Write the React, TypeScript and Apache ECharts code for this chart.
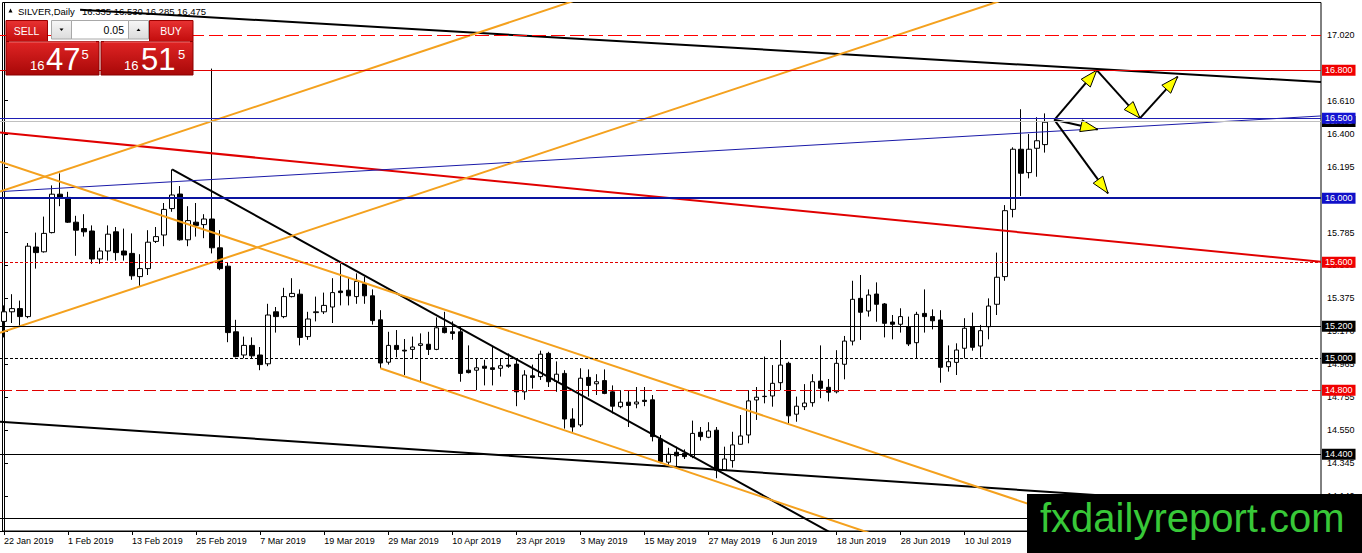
import React, { useEffect, useRef } from 'react';
import * as echarts from 'echarts';

// ---------- DATA ----------
const opens = [
  15.23, 15.29, 15.31, 15.26, 15.695, 15.665, 15.785, 16.025, 16.005, 15.85,
  15.81, 15.795, 15.62, 15.67, 15.79, 15.67, 15.655, 15.51, 15.56, 15.73,
  15.77, 15.935, 16.026, 15.74, 15.85, 15.835, 15.87, 15.69, 15.575, 15.165,
  15.02, 15.08, 15.02, 14.965, 15.29, 15.26, 15.385, 15.40, 15.135, 15.285,
  15.29, 15.32, 15.42, 15.425, 15.385, 15.465, 15.39, 15.24, 14.975, 15.08,
  15.05, 15.055, 15.08, 15.087, 15.055, 15.19, 15.165, 15.165, 14.925, 14.925,
  14.95, 14.94, 14.937, 14.957, 14.963, 14.79, 14.89, 14.885, 15.03, 14.855,
  14.905, 14.62, 14.583, 14.88, 14.84, 14.86, 14.79, 14.697, 14.725, 14.714,
  14.737, 14.74, 14.495, 14.35, 14.412, 14.405, 14.385, 14.537, 14.506, 14.55,
  14.30, 14.36, 14.462, 14.52, 14.739, 14.76, 14.764, 14.847, 14.968, 14.65,
  14.697, 14.722, 14.857, 14.818, 14.79, 14.962, 15.107, 15.374, 15.295, 15.401,
  15.339, 15.226, 15.212, 15.197, 15.097, 15.28, 15.26, 15.239, 14.947, 14.974,
  15.062, 15.197, 15.076, 15.197, 15.337, 15.51, 15.93, 16.306, 16.16, 16.312,
  16.335,
];
const highs = [
  15.33, 15.40, 15.36, 15.72, 15.785, 15.885, 16.08, 16.155, 16.04, 15.89,
  15.90, 15.83, 15.69, 15.83, 15.82, 15.81, 15.78, 15.65, 15.80, 15.82,
  15.97, 16.18, 16.076, 15.95, 15.97, 15.90, 16.81, 15.80, 15.60, 15.24,
  15.135, 15.13, 15.07, 15.34, 15.32, 15.44, 15.50, 15.43, 15.29, 15.385,
  15.41, 15.50, 15.59, 15.50, 15.53, 15.51, 15.43, 15.30, 15.165, 15.176,
  15.12, 15.135, 15.155, 15.165, 15.255, 15.29, 15.23, 15.20, 15.08, 15.00,
  14.99, 15.07, 15.00, 15.03, 15.00, 14.925, 14.96, 15.047, 15.04, 14.98,
  14.925, 14.687, 14.937, 14.93, 14.90, 14.93, 14.83, 14.80, 14.80, 14.82,
  14.82, 14.77, 14.52, 14.44, 14.447, 14.43, 14.61, 14.57, 14.60, 14.57,
  14.447, 14.54, 14.645, 14.80, 14.82, 15.01, 14.957, 15.113, 14.978, 14.76,
  14.838, 14.90, 15.08, 14.87, 15.05, 15.139, 15.484, 15.52, 15.43, 15.474,
  15.345, 15.27, 15.312, 15.26, 15.29, 15.43, 15.305, 15.30, 15.08, 15.093,
  15.25, 15.285, 15.208, 15.374, 15.66, 15.957, 16.318, 16.556, 16.401, 16.506,
  16.53,
];
const lows = [
  15.13, 15.22, 15.20, 15.25, 15.56, 15.66, 15.78, 15.95, 15.845, 15.64,
  15.76, 15.59, 15.59, 15.61, 15.61, 15.61, 15.49, 15.45, 15.52, 15.72,
  15.70, 15.915, 15.735, 15.70, 15.76, 15.75, 15.655, 15.55, 15.10, 15.005,
  15.00, 15.00, 14.925, 14.95, 15.16, 15.25, 15.38, 15.08, 15.115, 15.23,
  15.276, 15.22, 15.33, 15.33, 15.34, 15.34, 15.21, 14.937, 14.96, 15.005,
  14.895, 15.00, 14.85, 15.02, 15.05, 15.155, 15.115, 14.853, 14.905, 14.80,
  14.83, 14.83, 14.885, 14.94, 14.70, 14.74, 14.81, 14.864, 14.82, 14.79,
  14.56, 14.54, 14.57, 14.76, 14.77, 14.775, 14.655, 14.687, 14.57, 14.687,
  14.70, 14.48, 14.343, 14.33, 14.32, 14.37, 14.375, 14.485, 14.50, 14.25,
  14.297, 14.316, 14.46, 14.468, 14.614, 14.718, 14.697, 14.80, 14.593, 14.603,
  14.676, 14.697, 14.75, 14.73, 14.78, 14.868, 15.08, 15.114, 15.26, 15.228,
  15.13, 15.118, 15.16, 15.076, 14.999, 15.16, 15.18, 14.847, 14.916, 14.895,
  14.999, 15.047, 15.003, 15.118, 15.27, 15.484, 15.88, 16.014, 16.124, 16.134,
  16.285,
];
const closes = [
  15.29, 15.31, 15.26, 15.70, 15.66, 15.78, 16.025, 16.005, 15.85, 15.80,
  15.79, 15.62, 15.67, 15.775, 15.66, 15.645, 15.515, 15.56, 15.725, 15.76,
  15.93, 16.02, 15.74, 15.86, 15.83, 15.87, 15.69, 15.56, 15.16, 15.01,
  15.08, 15.015, 14.96, 15.27, 15.26, 15.385, 15.405, 15.13, 15.245, 15.29,
  15.33, 15.41, 15.41, 15.39, 15.48, 15.39, 15.235, 14.97, 15.08, 15.055,
  15.045, 15.07, 15.09, 15.055, 15.19, 15.16, 15.155, 14.905, 14.91, 14.94,
  14.937, 14.93, 14.953, 14.95, 14.79, 14.895, 14.88, 15.025, 14.853, 14.90,
  14.62, 14.57, 14.875, 14.83, 14.853, 14.78, 14.70, 14.725, 14.705, 14.726,
  14.73, 14.51, 14.353, 14.40, 14.39, 14.385, 14.53, 14.51, 14.545, 14.30,
  14.37, 14.458, 14.514, 14.733, 14.756, 14.762, 14.843, 14.957, 14.64, 14.70,
  14.72, 14.853, 14.812, 14.787, 14.968, 15.107, 15.368, 15.287, 15.395, 15.337,
  15.218, 15.212, 15.26, 15.089, 15.274, 15.26, 15.234, 14.943, 14.978, 15.051,
  15.187, 15.068, 15.172, 15.326, 15.506, 15.922, 16.306, 16.156, 16.306, 16.359,
  16.475,
];

const symbolName = 'SILVER,Daily';
const askPrice = 16.515;
const lotSize = '0.05';

// trading calendar (weekdays, minus listed holidays), then empty future slots
const firstDayUTC = [2019, 0, 22];
const holidays = ['2019-04-19'];
const futureSlots = 34;
const monthNames = ['Jan', 'Feb', 'Mar', 'Apr', 'May', 'Jun', 'Jul', 'Aug', 'Sep', 'Oct', 'Nov', 'Dec'];

// price-scale labels
const yTicks = [14.14, 14.345, 14.55, 14.755, 14.965, 15.17, 15.375, 15.58, 15.785, 16.195, 16.4, 16.61, 17.02];
const yMin = 13.92;
const yMax = 17.22;

// horizontal levels (first one is the bid line)
const levelPrices = [16.475, 17.02, 16.8, 16.5, 16.0, 15.6, 15.2, 15.0, 14.8, 14.4, 14.0];

// trend lines: [barIndex, price] endpoints
const blackTopLine = [[9.5, 17.178], [164.5, 16.726]];
const blackBottomLine = [[-0.5, 14.603], [164.5, 14.051]];
const blackDownLine = [[21, 16.18], [104, 13.889]];
const redLine = [[-0.5, 16.41], [164.5, 15.603]];
const blueLine = [[-0.5, 16.041], [164.5, 16.514]];
const orangeUpA = [[-0.5, 16.041], [75, 17.297]];
const orangeUpB = [[-0.5, 15.159], [126, 17.259]];
const orangeDownA = [[-0.5, 16.228], [164.5, 13.481]];
const orangeDownB = [[47, 14.937], [112, 13.842]];

// arrows: [fromIndex, fromPrice, toIndex, toPrice]
const arrowSegments = [
  [131.2, 16.49, 136.5, 16.80],
  [136.5, 16.80, 141.9, 16.50],
  [141.9, 16.50, 146.6, 16.76],
  [131.2, 16.49, 136.6, 16.43],
  [131.2, 16.49, 137.9, 16.03],
];

// ---------- STYLES ----------
const FONT = '"Liberation Sans", Arial, sans-serif';
const levelStyles = [
  { color: '#c0c0c0', width: 1, dash: 'solid', box: '#000000' },
  { color: '#ff0000', width: 1, dash: [14, 5], box: null },
  { color: '#e00000', width: 1, dash: 'solid', box: '#f00000' },
  { color: '#1e1eb4', width: 1, dash: 'solid', box: '#1414d2' },
  { color: '#0a14a0', width: 2, dash: 'solid', box: '#1010c8' },
  { color: '#e00000', width: 1, dash: [3, 2], box: '#f00000' },
  { color: '#000000', width: 1, dash: 'solid', box: '#000000' },
  { color: '#000000', width: 1, dash: [3, 2], box: '#000000' },
  { color: '#e00000', width: 1, dash: [12, 4], box: '#f00000' },
  { color: '#000000', width: 1, dash: 'solid', box: '#000000' },
  { color: '#000000', width: 1, dash: 'solid', box: '#000000' },
];
const ORANGE = '#f4a11e';

function buildCategories(count: number): string[] {
  const out: string[] = [];
  const d = new Date(Date.UTC(firstDayUTC[0], firstDayUTC[1], firstDayUTC[2]));
  while (out.length < count) {
    const dow = d.getUTCDay();
    const iso = d.toISOString().slice(0, 10);
    if (dow !== 0 && dow !== 6 && holidays.indexOf(iso) < 0) {
      out.push(`${d.getUTCDate()} ${monthNames[d.getUTCMonth()]} ${d.getUTCFullYear()}`);
    }
    d.setUTCDate(d.getUTCDate() + 1);
  }
  return out;
}

function buildOption() {
  const n = Math.min(opens.length, highs.length, lows.length, closes.length);
  const candles: number[][] = [];
  for (let i = 0; i < n; i++) candles.push([opens[i], closes[i], lows[i], highs[i]]);
  const categories = buildCategories(n).concat(new Array(futureSlots).fill(''));
  const last = n - 1;
  const header = [opens[last], highs[last], lows[last], closes[last]].map((v) => v.toFixed(3)).join(' ');
  const split = (p: number) => {
    const s = p.toFixed(3);
    return [s.slice(0, 2), s.slice(3, 5), s.slice(5)];
  };
  const bidParts = split(closes[last]);
  const askParts = split(askPrice);

  const trend = (data: number[][], color: string, width: number) => ({
    type: 'line',
    xAxisIndex: 1,
    yAxisIndex: 0,
    data,
    symbol: 'none',
    showSymbol: false,
    silent: true,
    clip: true,
    z: 3,
    lineStyle: { color, width },
    emphasis: { disabled: true },
  });

  const redGrad = () =>
    new echarts.graphic.LinearGradient(0, 0, 0, 1, [
      { offset: 0, color: '#e83232' },
      { offset: 1, color: '#c20c0c' },
    ]);
  const priceGrad = () =>
    new echarts.graphic.LinearGradient(0, 0, 0, 1, [
      { offset: 0, color: '#e02424' },
      { offset: 1, color: '#a80808' },
    ]);
  const grayGrad = () =>
    new echarts.graphic.LinearGradient(0, 0, 0, 1, [
      { offset: 0, color: '#f6f6f6' },
      { offset: 1, color: '#dcdcdc' },
    ]);
  const txt = (text: string, x: number, y: number, size: number, fill: string, align = 'left', z = 11) => ({
    type: 'text',
    x,
    y,
    z,
    silent: true,
    style: {
      text,
      fill,
      fontSize: size,
      fontFamily: FONT,
      align,
      textAlign: align,
      verticalAlign: 'middle',
      textVerticalAlign: 'middle',
    },
  });

  const graphic: any[] = [
    // chart frame (left/top)
    {
      type: 'rect',
      z: 1,
      silent: true,
      shape: { x: 2.5, y: 2.5, width: 1318.5, height: 528.5 },
      style: { fill: 'none', stroke: '#000', lineWidth: 1 },
    },
    // header
    {
      type: 'polygon',
      z: 1,
      silent: true,
      shape: { points: [[8.5, 12.5], [12.5, 12.5], [10.5, 8.5]] },
      style: { fill: '#000' },
    },
    txt(symbolName, 18, 11, 9.5, '#000', 'left', 1),
    txt(header, 82, 11, 9.5, '#000', 'left', 1),
    // one-click panel
    { type: 'rect', z: 10, silent: true, shape: { x: 6, y: 20.5, width: 41.5, height: 21 }, style: { fill: redGrad(), stroke: '#9a0000', lineWidth: 1 } },
    { type: 'rect', z: 10, silent: true, shape: { x: 149.5, y: 20.5, width: 43.5, height: 21 }, style: { fill: redGrad(), stroke: '#9a0000', lineWidth: 1 } },
    { type: 'rect', z: 10, silent: true, shape: { x: 51.5, y: 20.5, width: 20, height: 18.5 }, style: { fill: grayGrad(), stroke: '#a8a8a8', lineWidth: 1 } },
    { type: 'rect', z: 10, silent: true, shape: { x: 71.5, y: 20.5, width: 57, height: 18.5 }, style: { fill: '#ffffff', stroke: '#a8a8a8', lineWidth: 1 } },
    { type: 'rect', z: 10, silent: true, shape: { x: 128.5, y: 20.5, width: 20, height: 18.5 }, style: { fill: grayGrad(), stroke: '#a8a8a8', lineWidth: 1 } },
    { type: 'polygon', z: 11, silent: true, shape: { points: [[59.5, 28.5], [63.5, 28.5], [61.5, 31]] }, style: { fill: '#000' } },
    { type: 'polygon', z: 11, silent: true, shape: { points: [[136.5, 31], [140.5, 31], [138.5, 28.5]] }, style: { fill: '#000' } },
    { type: 'rect', z: 10, silent: true, shape: { x: 6, y: 41.5, width: 93, height: 33.5 }, style: { fill: priceGrad(), stroke: '#8a0000', lineWidth: 1 } },
    { type: 'rect', z: 10, silent: true, shape: { x: 101, y: 41.5, width: 92, height: 33.5 }, style: { fill: priceGrad(), stroke: '#8a0000', lineWidth: 1 } },
    { type: 'line', z: 11, silent: true, shape: { x1: 9, y1: 42, x2: 96, y2: 42 }, style: { stroke: '#f07070', lineWidth: 1 } },
    { type: 'line', z: 11, silent: true, shape: { x1: 104, y1: 42, x2: 190, y2: 42 }, style: { stroke: '#f07070', lineWidth: 1 } },
    txt('SELL', 26.5, 31, 10.5, '#ffffff', 'center'),
    txt('BUY', 171, 31, 10.5, '#ffffff', 'center'),
    txt(lotSize, 124, 30, 10.5, '#000000', 'right'),
    txt(bidParts[0], 30, 65.5, 13, '#ffffff'),
    txt(bidParts[1], 46, 59.5, 31, '#ffffff'),
    txt(bidParts[2], 81.5, 54, 13, '#ffffff'),
    txt(askParts[0], 124, 65.5, 13, '#ffffff'),
    txt(askParts[1], 141, 59.5, 31, '#ffffff'),
    txt(askParts[2], 178, 54, 13, '#ffffff'),
    // watermark
    { type: 'rect', z: 20, silent: true, shape: { x: 1027, y: 494, width: 335, height: 59 }, style: { fill: '#000000' } },
    txt('fxdailyreport.com', 1040, 518, 40, '#38c838', 'left', 21),
  ];

  const markData = levelPrices.map((p, i) => {
    const st = levelStyles[i];
    return {
      yAxis: p,
      lineStyle: { color: st.color, width: st.width, type: st.dash },
      label: st.box
        ? {
            show: true,
            position: 'end',
            distance: 1,
            formatter: p.toFixed(3),
            color: '#ffffff',
            backgroundColor: st.box,
            padding: [1, 3, 1, 3],
            fontSize: 9,
            fontFamily: FONT,
          }
        : { show: false },
    };
  });

  return {
    animation: false,
    backgroundColor: '#ffffff',
    textStyle: { fontFamily: FONT },
    grid: { left: 0, right: 41, top: 3, bottom: 22, outerBoundsMode: 'none', containLabel: false },
    xAxis: [
      {
        type: 'category',
        gridIndex: 0,
        data: categories,
        boundaryGap: true,
        axisLine: { show: true, lineStyle: { color: '#000', width: 1 } },
        axisTick: { show: true, interval: 7, alignWithLabel: true, length: 4, lineStyle: { color: '#000' } },
        axisLabel: { interval: 7, align: 'left', fontSize: 9, color: '#000', margin: 5, fontFamily: FONT },
        splitLine: { show: false },
      },
      { type: 'value', gridIndex: 0, min: -0.5, max: categories.length - 0.5, show: false },
    ],
    yAxis: [
      {
        type: 'value',
        position: 'right',
        min: yMin,
        max: yMax,
        scale: true,
        axisLine: { show: true, lineStyle: { color: '#000', width: 1 } },
        axisTick: { show: true, length: 4, customValues: yTicks, lineStyle: { color: '#000' } },
        axisLabel: {
          customValues: yTicks,
          formatter: (v: number) => v.toFixed(3),
          fontSize: 9,
          color: '#000',
          margin: 6,
          fontFamily: FONT,
        },
        splitLine: { show: false },
      },
    ],
    series: [
      {
        type: 'candlestick',
        xAxisIndex: 0,
        yAxisIndex: 0,
        data: candles,
        barWidth: 5,
        z: 2,
        silent: true,
        itemStyle: {
          color: '#ffffff',
          color0: '#000000',
          borderColor: '#000000',
          borderColor0: '#000000',
          borderColorDoji: '#000000',
          borderWidth: 1,
        },
        emphasis: { disabled: true },
        markLine: { silent: true, symbol: ['none', 'none'], animation: false, data: markData },
      },
      trend(blackTopLine, '#000000', 2),
      trend(blackBottomLine, '#000000', 2),
      trend(blackDownLine, '#000000', 2),
      trend(redLine, '#e00000', 2),
      trend(blueLine, '#1a1aa8', 1),
      trend(orangeUpA, ORANGE, 2),
      trend(orangeUpB, ORANGE, 2),
      trend(orangeDownA, ORANGE, 2),
      trend(orangeDownB, ORANGE, 2),
      {
        type: 'custom',
        xAxisIndex: 1,
        yAxisIndex: 0,
        data: arrowSegments,
        encode: { x: [0, 2], y: [1, 3] },
        z: 4,
        silent: true,
        clip: false,
        renderItem: (_params: any, api: any) => {
          const p1 = api.coord([api.value(0), api.value(1)]);
          const p2 = api.coord([api.value(2), api.value(3)]);
          const dx = p2[0] - p1[0];
          const dy = p2[1] - p1[1];
          const len = Math.hypot(dx, dy) || 1;
          const ux = dx / len;
          const uy = dy / len;
          const L = 17;
          const W = 6;
          const bx = p2[0] - ux * L;
          const by = p2[1] - uy * L;
          const nx = -uy;
          const ny = ux;
          return {
            type: 'group',
            children: [
              { type: 'line', shape: { x1: p1[0], y1: p1[1], x2: p2[0], y2: p2[1] }, style: { stroke: '#000', lineWidth: 2 } },
              {
                type: 'polygon',
                shape: { points: [[p2[0], p2[1]], [bx + nx * W, by + ny * W], [bx - nx * W, by - ny * W]] },
                style: { fill: '#ffff00', stroke: '#000', lineWidth: 1 },
              },
            ],
          };
        },
      },
    ],
    graphic,
  };
}

export default function App() {
  const ref = useRef<HTMLDivElement>(null);
  useEffect(() => {
    if (!ref.current) return;
    const chart = echarts.init(ref.current, null, { renderer: 'svg' });
    chart.setOption(buildOption() as any);
    return () => chart.dispose();
  }, []);
  return (
    <div
      ref={ref}
      style={{ position: 'absolute', left: 0, top: 0, width: 1362, height: 553, background: '#ffffff' }}
    />
  );
}
